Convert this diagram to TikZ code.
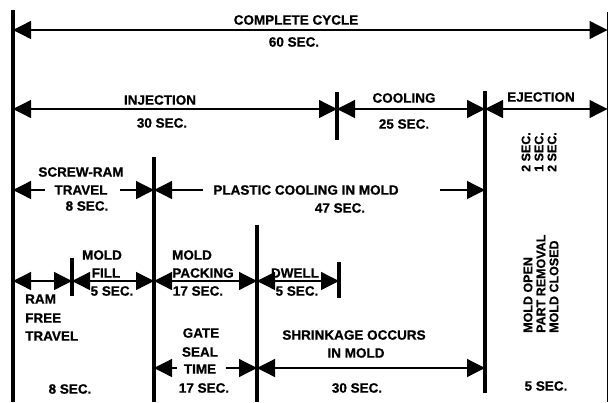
\documentclass[tikz,border=0pt]{standalone}
\usepackage{fontspec}
\setmainfont{Liberation Sans}
\newfontfamily\heavyfont{Liberation Sans Bold}[FakeBold=0.7]
\usetikzlibrary{arrows.meta}
\begin{document}
\begin{tikzpicture}[x=1pt,y=-1pt,
  vline/.style={line width=3.2pt},
  tipA/.tip={Triangle[length=18pt,width=18pt]},
  dim/.style={line width=1.3pt,tipA-tipA},
  half/.style={line width=1.3pt,-tipA},
  lbl/.style={font=\fontsize{13.5}{15}\heavyfont, inner sep=0pt},
  rot/.style={font=\fontsize{12.5}{13}\heavyfont, inner sep=0pt, rotate=90, align=left, anchor=west}
]
\useasboundingbox (0,0) rectangle (609,402);
% vertical lines
\coordinate (L0t) at (13,10);  \coordinate (L0b) at (13,402);
\coordinate (REt) at (607.5,12); \coordinate (REb) at (607.5,402);
\coordinate (IDt) at (337,92); \coordinate (IDb) at (337,140);
\coordinate (CEt) at (485,91); \coordinate (CEb) at (485,393);
\coordinate (SRt) at (154,157); \coordinate (SRb) at (154,402);
\coordinate (MFt) at (72,258); \coordinate (MFb) at (72,296);
\coordinate (DSt) at (257,225); \coordinate (DSb) at (257,402);
\coordinate (DEt) at (339,262); \coordinate (DEb) at (339,298);
\draw[vline] (L0t) -- (L0b);
\draw[line width=1.5pt] (REt) -- (REb);
\draw[vline] (IDt) -- (IDb);
\draw[vline] (CEt) -- (CEb);
\draw[vline] (SRt) -- (SRb);
\draw[vline] (MFt) -- (MFb);
\draw[vline] (DSt) -- (DSb);
\draw[vline] (DEt) -- (DEb);
% rows
\coordinate (r1) at (0,30);
\coordinate (r2) at (0,109);
\coordinate (r3) at (0,190);
\coordinate (r4) at (0,281);
\coordinate (r5) at (0,368);
% broken-arrow starts
\coordinate (srA) at (45,190);  \coordinate (srB) at (120,190);
\coordinate (pcA) at (203,190); \coordinate (pcB) at (440,190);
\coordinate (gsA) at (177,368); \coordinate (gsB) at (226,368);
% arrows
\draw[dim] (L0t |- r1) -- (REt |- r1);
\draw[dim] (L0t |- r2) -- (IDt |- r2);
\draw[dim] (IDt |- r2) -- (CEt |- r2);
\draw[dim] (CEt |- r2) -- (REt |- r2);
\draw[half] (srA) -- (L0t |- r3);
\draw[half] (srB) -- (SRt |- r3);
\draw[half] (pcA) -- (SRt |- r3);
\draw[half] (pcB) -- (CEt |- r3);
\draw[dim] (L0t |- r4) -- (MFt |- r4);
\draw[dim] (MFt |- r4) -- (SRt |- r4);
\draw[dim] (SRt |- r4) -- (DSt |- r4);
\draw[dim] (DSt |- r4) -- (DEt |- r4);
\draw[half] (gsA) -- (SRt |- r5);
\draw[half] (gsB) -- (DSt |- r5);
\draw[dim] (DSt |- r5) -- (CEt |- r5);
% labels
\node[lbl] (cc) at (296,20) {COMPLETE CYCLE};
\node[lbl] (cc60) at (294,42) {60 SEC.};
\node[lbl] (inj) at (160,100) {INJECTION};
\node[lbl] (inj30) at (162,123) {30 SEC.};
\node[lbl] (cool) at (404,98) {COOLING};
\node[lbl] (cool25) at (404,124) {25 SEC.};
\node[lbl] (ej) at (541,97) {EJECTION};
\node[rot] (ejt) at (539,172) {2 SEC.\\1 SEC.\\2 SEC.};
\node[lbl] (sr1) at (81,172) {SCREW-RAM};
\node[lbl] (sr2) at (81,190) {TRAVEL};
\node[lbl] (sr3) at (87,206) {8 SEC.};
\node[lbl] (pc) at (306,190) {PLASTIC COOLING IN MOLD};
\node[lbl] (pc47) at (340,208) {47 SEC.};
\node[lbl] (mf1) at (102,255) {MOLD};
\node[lbl] (mf2) at (106,273) {FILL};
\node[lbl] (mf3) at (112,291) {5 SEC.};
\node[lbl] (mp1) at (192,255) {MOLD};
\node[lbl] (mp2) at (203,273) {PACKING};
\node[lbl] (mp3) at (198,291) {17 SEC.};
\node[lbl] (dw1) at (295,273) {DWELL};
\node[lbl] (dw2) at (297,291) {5 SEC.};
\node[lbl,anchor=west] (rf1) at (25,299) {RAM};
\node[lbl,anchor=west] (rf2) at (25,318) {FREE};
\node[lbl,anchor=west] (rf3) at (25,336) {TRAVEL};
\node[lbl] (rf4) at (70,389) {8 SEC.};
\node[lbl] (gs1) at (201,333) {GATE};
\node[lbl] (gs2) at (200,352) {SEAL};
\node[lbl] (gs3) at (200,369) {TIME};
\node[lbl] (gs4) at (204,388) {17 SEC.};
\node[lbl] (sh1) at (354,335) {SHRINKAGE OCCURS};
\node[lbl] (sh2) at (356,353) {IN MOLD};
\node[lbl] (sh3) at (357,388) {30 SEC.};
\node[rot] (mo) at (541,333) {MOLD OPEN\\PART REMOVAL\\MOLD CLOSED};
\node[lbl] (mo5) at (546,386) {5 SEC.};
\end{tikzpicture}
\end{document}
